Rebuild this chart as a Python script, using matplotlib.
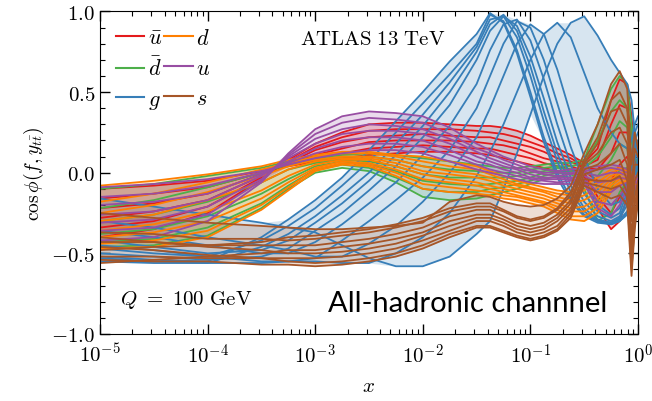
import numpy as np
import matplotlib
matplotlib.use("Agg")
import matplotlib.pyplot as plt
from matplotlib.lines import Line2D
from matplotlib.ticker import MultipleLocator, FixedLocator, NullFormatter

plt.rcParams['mathtext.fontset'] = 'cm'
plt.rcParams['font.family'] = ['DejaVu Serif']

# x grid (log10 x) on which every correlation curve is sampled
log_x = [-5, -4.5, -4, -3.5, -3.25, -3, -2.75, -2.5, -2.25, -2, -1.75, -1.5,
         -1.375, -1.25, -1.125, -1, -0.875, -0.75, -0.625, -0.5, -0.375,
         -0.25, -0.17, -0.1, -0.06, -0.03, 0]

# cos phi(f, y_ttbar) curves, one row per rapidity bin
ubar = [
    [-0.10,-0.08,-0.05,0.01,0.04,0.07,0.09,0.11,0.12,0.13,0.13,0.12,0.11,0.09,0.07,0.05,0.03,0.01,0.00,-0.02,-0.22,-0.35,-0.30,-0.15,-0.10,-0.10,-0.10],
    [-0.16,-0.13,-0.09,0.00,0.05,0.09,0.12,0.15,0.16,0.17,0.16,0.15,0.15,0.13,0.11,0.09,0.06,0.04,0.02,0.00,-0.15,-0.25,-0.15,-0.05,-0.05,-0.08,-0.08],
    [-0.22,-0.19,-0.13,-0.01,0.06,0.11,0.15,0.19,0.20,0.20,0.20,0.19,0.18,0.17,0.15,0.12,0.09,0.07,0.04,0.01,-0.05,-0.05,0.05,0.10,0.02,-0.05,-0.06],
    [-0.28,-0.24,-0.17,-0.02,0.06,0.14,0.19,0.22,0.23,0.24,0.23,0.22,0.22,0.20,0.18,0.16,0.13,0.09,0.07,0.03,0.02,0.12,0.25,0.25,0.12,0.00,-0.04],
    [-0.34,-0.30,-0.21,-0.03,0.07,0.16,0.22,0.26,0.27,0.27,0.27,0.26,0.25,0.24,0.22,0.19,0.16,0.12,0.09,0.04,0.08,0.30,0.42,0.40,0.25,0.05,-0.02],
    [-0.40,-0.35,-0.25,-0.04,0.08,0.18,0.25,0.30,0.31,0.31,0.30,0.29,0.29,0.28,0.26,0.23,0.19,0.15,0.11,0.06,0.15,0.45,0.58,0.55,0.35,0.10,0.00],
]
dbar = [
    [-0.10,-0.07,-0.02,0.03,0.07,0.09,0.11,0.12,0.11,0.09,0.07,0.05,0.04,0.03,0.03,0.04,0.05,0.06,0.06,0.08,0.30,0.52,0.60,0.55,0.30,0.10,0.05],
    [-0.22,-0.17,-0.09,0.00,0.05,0.08,0.10,0.10,0.08,0.04,0.02,0.01,0.00,0.00,0.00,0.02,0.03,0.04,0.04,0.06,0.20,0.38,0.45,0.40,0.20,0.05,0.00],
    [-0.30,-0.26,-0.18,-0.06,0.02,0.06,0.08,0.07,0.04,-0.01,-0.03,-0.03,-0.03,-0.03,-0.02,0.00,0.01,0.03,0.02,0.03,0.10,0.22,0.32,0.28,0.10,0.00,-0.02],
    [-0.38,-0.35,-0.27,-0.13,-0.04,0.04,0.07,0.05,0.01,-0.05,-0.07,-0.08,-0.07,-0.06,-0.05,-0.03,0.00,0.01,0.01,0.00,-0.02,0.08,0.18,0.15,0.02,-0.05,-0.05],
    [-0.43,-0.41,-0.34,-0.19,-0.08,0.02,0.05,0.03,-0.03,-0.10,-0.12,-0.12,-0.10,-0.09,-0.07,-0.05,-0.02,0.00,-0.01,-0.05,-0.18,-0.10,0.02,0.03,-0.05,-0.08,-0.08],
    [-0.46,-0.45,-0.39,-0.22,-0.10,0.00,0.03,0.01,-0.06,-0.15,-0.17,-0.16,-0.14,-0.12,-0.10,-0.07,-0.04,-0.02,-0.03,-0.10,-0.30,-0.25,-0.12,-0.05,-0.10,-0.12,-0.10],
]
gluon = [
    [-0.52,-0.54,-0.55,-0.40,-0.29,-0.17,-0.03,0.14,0.32,0.50,0.69,0.86,0.99,0.93,0.74,0.47,0.19,-0.03,-0.18,-0.27,-0.31,-0.32,-0.30,-0.26,-0.20,-0.12,-0.05],
    [-0.47,-0.50,-0.52,-0.42,-0.33,-0.22,-0.08,0.07,0.25,0.43,0.61,0.80,0.98,0.94,0.76,0.50,0.22,0.00,-0.16,-0.26,-0.30,-0.31,-0.29,-0.24,-0.17,-0.08,0.00],
    [-0.55,-0.56,-0.56,-0.46,-0.38,-0.27,-0.14,0.00,0.18,0.36,0.56,0.78,0.95,0.97,0.84,0.60,0.32,0.07,-0.12,-0.24,-0.30,-0.32,-0.30,-0.25,-0.15,-0.05,0.05],
    [-0.42,-0.46,-0.50,-0.48,-0.42,-0.31,-0.19,-0.05,0.11,0.29,0.50,0.75,0.92,0.98,0.88,0.66,0.38,0.12,-0.08,-0.22,-0.29,-0.31,-0.28,-0.20,-0.10,0.00,0.08],
    [-0.50,-0.52,-0.54,-0.52,-0.47,-0.36,-0.25,-0.11,0.04,0.22,0.42,0.70,0.88,0.97,0.91,0.72,0.46,0.19,-0.03,-0.18,-0.27,-0.30,-0.27,-0.17,-0.05,0.08,0.15],
    [-0.36,-0.40,-0.45,-0.50,-0.50,-0.43,-0.32,-0.19,-0.06,0.11,0.29,0.55,0.76,0.92,0.95,0.82,0.58,0.30,0.05,-0.13,-0.24,-0.28,-0.25,-0.12,0.02,0.15,0.20],
    [-0.45,-0.48,-0.52,-0.55,-0.55,-0.53,-0.42,-0.30,-0.17,-0.03,0.14,0.40,0.60,0.80,0.94,0.90,0.70,0.43,0.16,-0.06,-0.20,-0.26,-0.22,-0.08,0.07,0.20,0.25],
    [-0.30,-0.34,-0.40,-0.45,-0.48,-0.52,-0.52,-0.44,-0.33,-0.18,0.00,0.22,0.40,0.60,0.80,0.92,0.86,0.64,0.36,0.10,-0.10,-0.20,-0.18,-0.05,0.10,0.25,0.30],
    [-0.53,-0.55,-0.56,-0.56,-0.55,-0.55,-0.56,-0.56,-0.50,-0.40,-0.25,-0.02,0.13,0.30,0.50,0.70,0.86,0.93,0.84,0.62,0.40,0.25,0.18,0.15,0.20,0.30,0.35],
    [-0.16,-0.21,-0.26,-0.31,-0.34,-0.37,-0.45,-0.53,-0.58,-0.58,-0.52,-0.38,-0.30,-0.10,0.12,0.36,0.60,0.80,0.93,0.97,0.85,0.70,0.62,0.55,0.45,0.25,0.05],
]
d_quark = [
    [-0.08,-0.05,-0.01,0.04,0.08,0.11,0.13,0.13,0.11,0.10,0.07,0.04,0.01,-0.02,-0.05,-0.07,-0.09,-0.11,-0.12,-0.08,-0.03,0.02,0.03,0.02,0.00,-0.02,-0.04],
    [-0.18,-0.13,-0.06,0.02,0.06,0.10,0.12,0.12,0.10,0.07,0.04,0.02,-0.01,-0.04,-0.07,-0.09,-0.11,-0.13,-0.14,-0.11,-0.06,0.00,0.02,0.01,-0.01,-0.03,-0.05],
    [-0.25,-0.20,-0.12,-0.02,0.04,0.08,0.10,0.10,0.08,0.04,0.01,-0.01,-0.03,-0.06,-0.08,-0.10,-0.12,-0.15,-0.17,-0.14,-0.09,-0.02,0.00,0.00,-0.02,-0.04,-0.06],
    [-0.30,-0.26,-0.17,-0.06,0.02,0.07,0.09,0.09,0.06,0.01,-0.01,-0.03,-0.05,-0.08,-0.10,-0.12,-0.14,-0.17,-0.19,-0.17,-0.12,-0.04,-0.01,-0.01,-0.03,-0.05,-0.07],
    [-0.36,-0.32,-0.24,-0.11,-0.02,0.05,0.08,0.08,0.04,-0.01,-0.04,-0.06,-0.08,-0.10,-0.12,-0.14,-0.16,-0.19,-0.22,-0.21,-0.16,-0.06,-0.03,-0.03,-0.05,-0.07,-0.07],
    [-0.40,-0.37,-0.30,-0.16,-0.06,0.03,0.07,0.06,0.02,-0.04,-0.06,-0.08,-0.10,-0.12,-0.14,-0.16,-0.18,-0.21,-0.24,-0.24,-0.19,-0.08,-0.04,-0.04,-0.06,-0.08,-0.08],
    [-0.44,-0.42,-0.36,-0.20,-0.09,0.02,0.06,0.05,0.00,-0.07,-0.09,-0.11,-0.12,-0.14,-0.15,-0.17,-0.19,-0.23,-0.27,-0.27,-0.22,-0.10,-0.06,-0.05,-0.07,-0.09,-0.09],
    [-0.47,-0.46,-0.40,-0.23,-0.11,0.01,0.05,0.04,-0.02,-0.10,-0.12,-0.13,-0.14,-0.16,-0.17,-0.19,-0.21,-0.25,-0.29,-0.30,-0.25,-0.12,-0.07,-0.06,-0.08,-0.10,-0.10],
]
u_quark = [
    [-0.09,-0.07,-0.04,0.01,0.05,0.09,0.12,0.14,0.14,0.12,0.07,0.02,0.00,-0.02,-0.04,-0.06,-0.07,-0.07,-0.07,-0.07,-0.22,-0.27,-0.20,-0.10,-0.10,-0.10,-0.10],
    [-0.15,-0.13,-0.08,0.00,0.06,0.12,0.16,0.18,0.18,0.16,0.11,0.05,0.02,0.00,-0.02,-0.04,-0.05,-0.06,-0.05,-0.05,-0.18,-0.20,-0.14,-0.08,-0.08,-0.09,-0.09],
    [-0.20,-0.18,-0.13,-0.01,0.07,0.15,0.20,0.22,0.22,0.20,0.14,0.07,0.05,0.02,0.00,-0.03,-0.04,-0.04,-0.04,-0.04,-0.12,-0.12,-0.08,-0.06,-0.07,-0.08,-0.08],
    [-0.26,-0.24,-0.17,-0.02,0.09,0.18,0.24,0.26,0.26,0.24,0.18,0.10,0.07,0.04,0.02,-0.01,-0.03,-0.03,-0.03,-0.02,-0.06,-0.05,-0.03,-0.04,-0.06,-0.06,-0.07],
    [-0.31,-0.29,-0.21,-0.04,0.10,0.21,0.27,0.30,0.29,0.27,0.21,0.13,0.09,0.06,0.03,0.01,-0.01,-0.02,-0.01,0.00,-0.02,0.00,0.00,-0.02,-0.04,-0.05,-0.06],
    [-0.36,-0.34,-0.26,-0.05,0.11,0.24,0.31,0.34,0.33,0.31,0.24,0.15,0.12,0.08,0.05,0.02,0.00,0.00,0.00,0.01,0.02,0.03,0.02,0.00,-0.02,-0.03,-0.05],
    [-0.42,-0.40,-0.30,-0.06,0.12,0.27,0.35,0.38,0.37,0.35,0.28,0.18,0.14,0.10,0.07,0.04,0.02,0.01,0.02,0.03,0.04,0.05,0.04,0.02,0.00,-0.02,-0.04],
]
strange = [
    [-0.25,-0.28,-0.31,-0.33,-0.34,-0.35,-0.35,-0.34,-0.33,-0.31,-0.18,-0.14,-0.15,-0.18,-0.20,-0.21,-0.20,-0.16,-0.08,0.12,0.30,0.55,0.63,0.52,0.05,0.25,0.15],
    [-0.37,-0.38,-0.41,-0.41,-0.42,-0.41,-0.39,-0.37,-0.34,-0.30,-0.24,-0.21,-0.21,-0.24,-0.28,-0.30,-0.28,-0.23,-0.14,0.08,0.22,0.45,0.50,0.40,-0.10,0.15,0.10],
    [-0.48,-0.46,-0.45,-0.43,-0.40,-0.39,-0.37,-0.35,-0.32,-0.28,-0.22,-0.19,-0.19,-0.23,-0.27,-0.29,-0.27,-0.22,-0.12,0.06,0.18,0.38,0.40,0.30,-0.20,0.05,0.05],
    [-0.43,-0.43,-0.45,-0.45,-0.45,-0.45,-0.43,-0.41,-0.38,-0.34,-0.27,-0.23,-0.23,-0.27,-0.31,-0.33,-0.31,-0.26,-0.17,0.05,0.12,0.25,0.28,0.18,-0.30,-0.05,0.00],
    [-0.56,-0.54,-0.52,-0.50,-0.48,-0.48,-0.46,-0.44,-0.41,-0.37,-0.30,-0.26,-0.26,-0.29,-0.33,-0.35,-0.33,-0.28,-0.19,0.02,0.05,0.12,0.18,0.05,-0.40,-0.15,-0.05],
    [-0.40,-0.43,-0.46,-0.48,-0.50,-0.50,-0.49,-0.47,-0.44,-0.39,-0.33,-0.28,-0.28,-0.31,-0.35,-0.37,-0.35,-0.30,-0.22,-0.01,0.02,0.05,0.08,-0.05,-0.48,-0.20,-0.08],
    [-0.52,-0.52,-0.53,-0.53,-0.53,-0.53,-0.52,-0.50,-0.47,-0.42,-0.36,-0.30,-0.30,-0.33,-0.37,-0.39,-0.37,-0.33,-0.24,-0.04,-0.05,-0.05,-0.02,-0.12,-0.55,-0.28,-0.10],
    [-0.46,-0.48,-0.51,-0.53,-0.55,-0.56,-0.55,-0.53,-0.50,-0.45,-0.38,-0.33,-0.33,-0.36,-0.39,-0.41,-0.39,-0.35,-0.26,-0.06,-0.08,-0.10,-0.08,-0.15,-0.60,-0.32,-0.15],
    [-0.54,-0.55,-0.55,-0.57,-0.57,-0.58,-0.57,-0.55,-0.52,-0.47,-0.40,-0.34,-0.34,-0.37,-0.40,-0.42,-0.40,-0.36,-0.28,-0.08,-0.12,-0.16,-0.14,-0.20,-0.64,-0.35,-0.18],
]

flavours = [r'$\bar{u}$', r'$\bar{d}$', r'$g$', r'$d$', r'$u$', r'$s$']
colours = ['#e41a1c', '#4daf4a', '#377eb8', '#ff7f00', '#984ea3', '#a65628']
curve_sets = [ubar, dbar, gluon, d_quark, u_quark, strange]

x_ticks = [1e-5, 1e-4, 1e-3, 1e-2, 1e-1, 1e0]
x_tick_labels = [r'$10^{-5}$', r'$10^{-4}$', r'$10^{-3}$', r'$10^{-2}$', r'$10^{-1}$', r'$10^{0}$']
y_ticks = [-1.0, -0.5, 0.0, 0.5, 1.0]
y_tick_labels = [r'$-1.0$', r'$-0.5$', r'$0.0$', r'$0.5$', r'$1.0$']

x = 10.0 ** np.array(log_x)

fig = plt.figure(figsize=(6.52, 4.02), dpi=100)
ax = fig.add_axes([0.1534, 0.1667, 0.8251, 0.8023])

handles = []
for name, col, curves in zip(flavours, colours, curve_sets):
    arr = np.array(curves)
    ax.fill_between(x, arr.min(axis=0), arr.max(axis=0), color=col, alpha=0.2, lw=0)
    for row in arr:
        ax.plot(x, row, color=col, lw=1.3)
    handles.append(Line2D([], [], color=col, lw=1.5))

ax.set_xscale('log')
ax.set_xlim(1e-5, 1.0)
ax.set_ylim(-1.0, 1.0)

ax.set_xticks(x_ticks)
ax.set_xticklabels(x_tick_labels, fontsize=15)
minor = [m * 10.0 ** e for e in range(-5, 0) for m in range(2, 10)]
ax.xaxis.set_minor_locator(FixedLocator(minor))
ax.xaxis.set_minor_formatter(NullFormatter())
ax.set_yticks(y_ticks)
ax.set_yticklabels(y_tick_labels, fontsize=15)
ax.yaxis.set_minor_locator(MultipleLocator(0.1))
ax.tick_params(which='both', direction='in', top=True, right=True)
ax.tick_params(which='major', length=7, width=1.0)
ax.tick_params(which='minor', length=3.5, width=0.8)
ax.tick_params(axis='x', which='major', pad=6)

ax.set_xlabel(r'$x$', fontsize=15, labelpad=7)
ax.set_ylabel(r'$\cos\phi(f,y_{t\bar{t}})$', fontsize=14, labelpad=4)

ax.text(0.372, 0.915, r'$\mathrm{ATLAS\ 13\ TeV}$', transform=ax.transAxes,
        fontsize=15, ha='left', va='center')
ax.text(0.037, 0.108, r'$Q\ =\ 100\ \mathrm{GeV}$', transform=ax.transAxes,
        fontsize=15, ha='left', va='center')
ax.text(0.424, 0.095, 'All-hadronic channnel', transform=ax.transAxes,
        fontsize=21, ha='left', va='center', family=['Lato', 'DejaVu Sans'])

ax.legend(handles, flavours, ncol=2, loc='upper left', frameon=False,
          fontsize=16, handlelength=1.3, handletextpad=0.15,
          columnspacing=0.1, labelspacing=0.35, borderaxespad=0.3)

fig.savefig('out.png', dpi=100)
